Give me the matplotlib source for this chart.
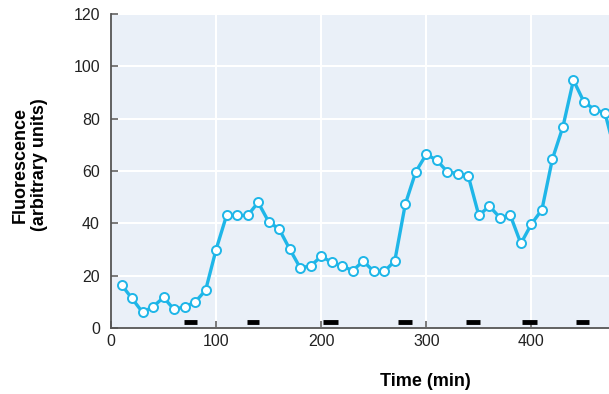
import matplotlib
matplotlib.use("Agg")
import matplotlib.pyplot as plt

time_min = [10, 20, 30, 40, 50, 60, 70, 80, 90, 100, 110, 120, 130, 140, 150, 160,
            170, 180, 190, 200, 210, 220, 230, 240, 250, 260, 270, 280, 290, 300,
            310, 320, 330, 340, 350, 360, 370, 380, 390, 400, 410, 420, 430, 440,
            450, 460, 470, 480]
fluorescence = [16.5, 11.3, 6.0, 8.1, 11.7, 7.1, 8.1, 9.9, 14.4, 30.0, 43.1, 43.0, 43.0,
                48.0, 40.6, 37.8, 30.2, 23.0, 23.7, 27.4, 25.1, 23.7, 21.9, 25.6, 21.6,
                21.6, 25.6, 47.3, 59.7, 66.4, 64.1, 59.7, 59.0, 58.0, 43.0, 46.6, 42.2,
                43.0, 32.3, 39.7, 45.2, 64.6, 76.9, 94.7, 86.4, 83.5, 82.2, 66.7]
bar_start = [69, 129, 202, 273, 338, 391, 442]
bar_end = [82, 141, 216, 286, 351, 405, 455]
bar_level = 2.3
y_ticks = [0, 20, 40, 60, 80, 100, 120]
x_ticks = [0, 100, 200, 300, 400]

plt.rcParams['font.family'] = ['Liberation Sans', 'DejaVu Sans']

fig = plt.figure(figsize=(6.09, 3.94), dpi=100)
ax = fig.add_axes([111/609, 1 - 328/394, 1 - 111/609 + 0.002, (328 - 14)/394])
ax.set_facecolor('#EAF0F8')

ax.plot(time_min, fluorescence, color='#1FB6E8', lw=2.4, marker='o', ms=6.5,
        mfc='white', mec='#1FB6E8', mew=1.4, zorder=3, clip_on=True)
for s, e in zip(bar_start, bar_end):
    ax.plot([s, e], [bar_level, bar_level], color='black', lw=3.5,
            solid_capstyle='butt', zorder=4)

ax.set_xlim(0, 475)
ax.set_ylim(0, 120)
ax.set_yticks(y_ticks)
ax.set_xticks(x_ticks)
ax.grid(True, color='white', lw=1.5)
ax.set_axisbelow(True)
for side in ['top', 'right']:
    ax.spines[side].set_visible(False)
for side in ['left', 'bottom']:
    ax.spines[side].set_color('#555555')
    ax.spines[side].set_linewidth(1.3)
ax.tick_params(direction='in', length=5, width=1.1, color='#555555',
               labelsize=11.5, labelcolor='#222222')
ax.tick_params(axis='y', pad=8)
ax.tick_params(axis='x', pad=4)

ax.set_xlabel('Time (min)', fontsize=13, fontweight='bold')
ax.xaxis.set_label_coords((425 - 111) / (609 - 111), -(382 - 328) / (328 - 14))
ax.xaxis.label.set_va('center')
ax.set_ylabel('Fluorescence\n(arbitrary units)', fontsize=13, fontweight='bold',
              linespacing=1.2)
ax.yaxis.set_label_coords(-(111 - 30) / (609 - 111), (328 - 165) / (328 - 14))
ax.yaxis.label.set_va('center')

fig.savefig('out.png', dpi=100)
